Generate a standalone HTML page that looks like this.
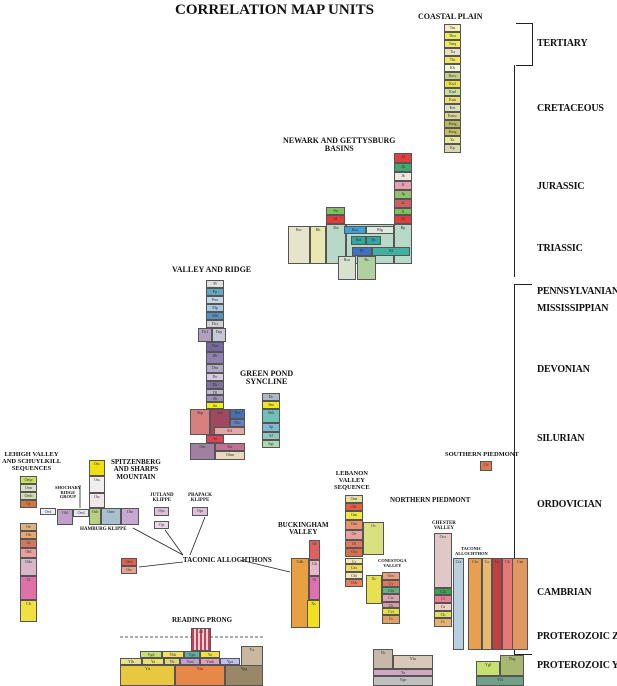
<!DOCTYPE html>
<html><head><meta charset="utf-8"><style>
body{margin:0;width:617px;height:686px;background:#fff;position:relative;overflow:hidden;font-family:"Liberation Serif",serif}
.a{position:absolute;box-sizing:border-box;border:1px solid #555;font-size:4px;color:#333;text-align:center;overflow:hidden}
.t{position:absolute;font-weight:bold;color:#111;text-align:center;line-height:1.05;white-space:nowrap}
.p{position:absolute;font-weight:bold;font-size:10px;color:#111;left:537px;white-space:nowrap;letter-spacing:-0.2px}
.l{position:absolute;background:#222}
</style></head><body>
<div class="t" style="left:175px;top:3px;font-size:15px">CORRELATION MAP UNITS</div>
<div class="t" style="left:418px;top:13px;font-size:8px">COASTAL PLAIN</div>
<div class="t" style="left:283px;top:137px;font-size:8px">NEWARK AND GETTYSBURG<br>BASINS</div>
<div class="t" style="left:172px;top:266px;font-size:8px">VALLEY AND RIDGE</div>
<div class="t" style="left:240px;top:370px;font-size:8px">GREEN POND<br>SYNCLINE</div>
<div class="t" style="left:2px;top:452px;font-size:6.5px">LEHIGH VALLEY<br>AND SCHUYLKILL<br>SEQUENCES</div>
<div class="t" style="left:111px;top:459px;font-size:7px">SPITZENBERG<br>AND SHARPS<br>MOUNTAIN</div>
<div class="t" style="left:55px;top:486px;font-size:4.5px">SHOCHARY<br>RIDGE<br>GROUP</div>
<div class="t" style="left:80px;top:527px;font-size:5px">HAMBURG KLIPPE</div>
<div class="t" style="left:150px;top:493px;font-size:5px">JUTLAND<br>KLIPPE</div>
<div class="t" style="left:188px;top:493px;font-size:5px">PRAPACK<br>KLIPPE</div>
<div class="t" style="left:183px;top:557px;font-size:7px">TACONIC ALLOCHTHONS</div>
<div class="t" style="left:278px;top:522px;font-size:7px">BUCKINGHAM<br>VALLEY</div>
<div class="t" style="left:334px;top:471px;font-size:6.5px">LEBANON<br>VALLEY<br>SEQUENCE</div>
<div class="t" style="left:390px;top:497px;font-size:7px">NORTHERN PIEDMONT</div>
<div class="t" style="left:378px;top:559px;font-size:4.5px">CONESTOGA<br>VALLEY</div>
<div class="t" style="left:432px;top:521px;font-size:5px">CHESTER<br>VALLEY</div>
<div class="t" style="left:455px;top:547px;font-size:4.5px">TACONIC<br>ALLOCHTHON</div>
<div class="t" style="left:445px;top:452px;font-size:6.5px">SOUTHERN PIEDMONT</div>
<div class="t" style="left:172px;top:617px;font-size:7px">READING PRONG</div>

<!-- time scale -->
<div class="l" style="left:532px;top:23px;width:1px;height:42px"></div>
<div class="l" style="left:516px;top:23px;width:17px;height:1px"></div>
<div class="l" style="left:516px;top:65px;width:17px;height:1px"></div>
<div class="l" style="left:514px;top:65px;width:1px;height:212px"></div>
<div class="l" style="left:514px;top:284px;width:1px;height:402px"></div>
<div class="l" style="left:514px;top:284px;width:18px;height:1px"></div>
<div class="l" style="left:514px;top:654px;width:18px;height:1px"></div>
<div class="p" style="top:38px">TERTIARY</div>
<div class="p" style="top:103px">CRETACEOUS</div>
<div class="p" style="top:181px">JURASSIC</div>
<div class="p" style="top:243px">TRIASSIC</div>
<div class="p" style="top:286px">PENNSYLVANIAN</div>
<div class="p" style="top:303px">MISSISSIPPIAN</div>
<div class="p" style="top:364px">DEVONIAN</div>
<div class="p" style="top:433px">SILURIAN</div>
<div class="p" style="top:499px">ORDOVICIAN</div>
<div class="p" style="top:587px">CAMBRIAN</div>
<div class="p" style="top:631px">PROTEROZOIC Z</div>
<div class="p" style="top:660px">PROTEROZOIC Y</div>

<!-- coastal plain -->
<div class="a" style="left:444px;top:24px;width:17px;height:8px;background:#f4f0c0">Tm</div>
<div class="a" style="left:444px;top:32px;width:17px;height:8px;background:#ecec60">Tkw</div>
<div class="a" style="left:444px;top:40px;width:17px;height:8px;background:#f0e860">Tmq</div>
<div class="a" style="left:444px;top:48px;width:17px;height:8px;background:#e8e0c8">Tsr</div>
<div class="a" style="left:444px;top:56px;width:17px;height:8px;background:#eee860">Tht</div>
<div class="a" style="left:444px;top:64px;width:17px;height:8px;background:#f4f4e0">Kh</div>
<div class="a" style="left:444px;top:72px;width:17px;height:8px;background:#c8d088">Kmv</div>
<div class="a" style="left:444px;top:80px;width:17px;height:8px;background:#e8e040">Kwl</div>
<div class="a" style="left:444px;top:88px;width:17px;height:8px;background:#c8e0a0">Kml</div>
<div class="a" style="left:444px;top:96px;width:17px;height:8px;background:#e8e070">Kmt</div>
<div class="a" style="left:444px;top:104px;width:17px;height:8px;background:#dce0c0">Ket</div>
<div class="a" style="left:444px;top:112px;width:17px;height:8px;background:#d8d890">Kmw</div>
<div class="a" style="left:444px;top:120px;width:17px;height:8px;background:#b8b860">Kmg</div>
<div class="a" style="left:444px;top:128px;width:17px;height:8px;background:#c8c060">Kmg</div>
<div class="a" style="left:444px;top:136px;width:17px;height:8px;background:#e8e8a0">Kr</div>
<div class="a" style="left:444px;top:144px;width:17px;height:9px;background:#d8d8b0">Kp</div>

<!-- Newark -->
<div class="a" style="left:394px;top:153px;width:18px;height:10px;background:#e04040">Jd</div>
<div class="a" style="left:394px;top:163px;width:18px;height:9px;background:#40a870">Jh</div>
<div class="a" style="left:394px;top:172px;width:18px;height:9px;background:#f0e8e0">Jb</div>
<div class="a" style="left:394px;top:181px;width:18px;height:9px;background:#e8a0b0">Jf</div>
<div class="a" style="left:394px;top:190px;width:18px;height:9px;background:#90c070">Jp</div>
<div class="a" style="left:394px;top:199px;width:18px;height:9px;background:#d06060">Jo</div>
<div class="a" style="left:394px;top:208px;width:18px;height:7px;background:#80c060">Jt</div>
<div class="a" style="left:394px;top:215px;width:18px;height:9px;background:#e03c3c">Jd</div>
<div class="a" style="left:326px;top:207px;width:19px;height:8px;background:#80c060">Jtu</div>
<div class="a" style="left:326px;top:215px;width:19px;height:9px;background:#e03c3c">Jd</div>
<div class="a" style="left:288px;top:226px;width:22px;height:38px;background:#e8e4cc">Rsc</div>
<div class="a" style="left:310px;top:226px;width:16px;height:38px;background:#e8e8b0">Rh</div>
<div class="a" style="left:326px;top:224px;width:20px;height:40px;background:#b8d8c8">Rst</div>
<div class="a" style="left:346px;top:224px;width:48px;height:40px;background:#b8d8c8"></div>
<div class="a" style="left:394px;top:224px;width:18px;height:40px;background:#b8d8c8">Rp</div>
<div class="a" style="left:344px;top:226px;width:22px;height:8px;background:#40a0d8">Rsu</div>
<div class="a" style="left:366px;top:226px;width:28px;height:8px;background:#e0e8e0">Rlg</div>
<div class="a" style="left:351px;top:236px;width:15px;height:9px;background:#30a8a0">Rsl</div>
<div class="a" style="left:366px;top:236px;width:15px;height:9px;background:#30a8a0">Rs</div>
<div class="a" style="left:352px;top:247px;width:20px;height:9px;background:#4070c0">Rs</div>
<div class="a" style="left:372px;top:247px;width:38px;height:9px;background:#40b0a0">Rl</div>
<div class="a" style="left:338px;top:256px;width:18px;height:24px;background:#d8e0d0">Rsu</div>
<div class="a" style="left:357px;top:256px;width:19px;height:24px;background:#b0d0a0">Rs</div>

<!-- Valley & Ridge -->
<div class="a" style="left:206px;top:280px;width:18px;height:8px;background:#e0e0e0">Pl</div>
<div class="a" style="left:206px;top:288px;width:18px;height:8px;background:#60a8c0">Pp</div>
<div class="a" style="left:206px;top:296px;width:18px;height:8px;background:#c8d8e8">Pmc</div>
<div class="a" style="left:206px;top:304px;width:18px;height:8px;background:#a8c8e0">Mp</div>
<div class="a" style="left:206px;top:312px;width:18px;height:8px;background:#5890c0">Mh</div>
<div class="a" style="left:206px;top:320px;width:18px;height:8px;background:#d0d0d0">Dct</div>
<div class="a" style="left:198px;top:328px;width:14px;height:14px;background:#b0a0c0">Dcf</div>
<div class="a" style="left:212px;top:328px;width:14px;height:14px;background:#c8c8d8">Dsp</div>
<div class="a" style="left:206px;top:342px;width:18px;height:10px;background:#7868a0">Dm</div>
<div class="a" style="left:206px;top:352px;width:18px;height:12px;background:#9080b0">Dh</div>
<div class="a" style="left:206px;top:364px;width:18px;height:9px;background:#b8a8c8">Dm</div>
<div class="a" style="left:206px;top:373px;width:18px;height:8px;background:#d8c8e0">Do</div>
<div class="a" style="left:206px;top:381px;width:18px;height:8px;background:#8070a0">Dk</div>
<div class="a" style="left:206px;top:389px;width:18px;height:6px;background:#c0b8d0">Dl</div>
<div class="a" style="left:206px;top:395px;width:18px;height:7px;background:#a090b8">Sk</div>
<div class="a" style="left:206px;top:402px;width:18px;height:7px;background:#f0f010">Sn</div>
<div class="a" style="left:190px;top:409px;width:20px;height:26px;background:#d88080">Sbp</div>
<div class="a" style="left:210px;top:409px;width:20px;height:26px;background:#a04860">Sct</div>
<div class="a" style="left:230px;top:409px;width:15px;height:10px;background:#4870b0">Dct</div>
<div class="a" style="left:230px;top:419px;width:15px;height:8px;background:#6880c0">Dks</div>
<div class="a" style="left:214px;top:427px;width:31px;height:8px;background:#e0a8a8">Sfl</div>
<div class="a" style="left:206px;top:435px;width:18px;height:8px;background:#e04050">Sf</div>
<div class="a" style="left:190px;top:443px;width:25px;height:17px;background:#a080a0">Om</div>
<div class="a" style="left:215px;top:443px;width:30px;height:8px;background:#c07090">Sw</div>
<div class="a" style="left:215px;top:451px;width:30px;height:9px;background:#e8d8c0">Ohm</div>
<!-- Green Pond -->
<div class="a" style="left:262px;top:393px;width:18px;height:8px;background:#b0b8c8">Dc</div>
<div class="a" style="left:262px;top:401px;width:18px;height:8px;background:#f0e820">Sm</div>
<div class="a" style="left:262px;top:409px;width:18px;height:14px;background:#70c0b8">Sbk</div>
<div class="a" style="left:262px;top:423px;width:18px;height:9px;background:#80b8d0">Sp</div>
<div class="a" style="left:262px;top:432px;width:18px;height:8px;background:#90c8c0">Sf</div>
<div class="a" style="left:262px;top:440px;width:18px;height:8px;background:#b0d8b0">Sgr</div>

<!-- Lehigh -->
<div class="a" style="left:20px;top:476px;width:17px;height:8px;background:#c8e060">Omp</div>
<div class="a" style="left:20px;top:484px;width:17px;height:8px;background:#d8e0c8">Omr</div>
<div class="a" style="left:20px;top:492px;width:17px;height:8px;background:#d0dcb0">Omb</div>
<div class="a" style="left:20px;top:500px;width:17px;height:8px;background:#d07840">Oj</div>
<div class="a" style="left:20px;top:523px;width:17px;height:8px;background:#e0b080">Oe</div>
<div class="a" style="left:20px;top:531px;width:17px;height:8px;background:#e8a870">Ofr</div>
<div class="a" style="left:20px;top:539px;width:17px;height:9px;background:#d07860">Oi</div>
<div class="a" style="left:20px;top:548px;width:17px;height:10px;background:#e8a0a0">Ohl</div>
<div class="a" style="left:20px;top:558px;width:17px;height:18px;background:#d8b8c8">Oda</div>
<div class="a" style="left:20px;top:576px;width:17px;height:24px;background:#e070a8">Cl</div>
<div class="a" style="left:20px;top:600px;width:17px;height:22px;background:#f0e040">Ch</div>
<!-- Spitzenberg / Hamburg -->
<div class="a" style="left:89px;top:460px;width:16px;height:16px;background:#f0e010">Osc</div>
<div class="a" style="left:89px;top:476px;width:16px;height:17px;background:#f0eef0">Oss</div>
<div class="a" style="left:89px;top:493px;width:16px;height:15px;background:#f0e8e8">Osr</div>
<div class="a" style="left:40px;top:508px;width:16px;height:7px;background:#f0f0f8">Oed</div>
<div class="a" style="left:57px;top:509px;width:16px;height:16px;background:#c0a0c8">Ohl</div>
<div class="a" style="left:73px;top:509px;width:16px;height:8px;background:#e8e8f0">Oml</div>
<div class="a" style="left:89px;top:508px;width:12px;height:17px;background:#b8d080">Osb</div>
<div class="a" style="left:101px;top:508px;width:20px;height:17px;background:#a8c0d0">Onw</div>
<div class="a" style="left:121px;top:508px;width:18px;height:17px;background:#c8a8d0">Ohr</div>
<!-- klippe boxes -->
<div class="a" style="left:154px;top:507px;width:15px;height:9px;background:#e0c0d8">Oju</div>
<div class="a" style="left:154px;top:521px;width:15px;height:8px;background:#e8d8e8">Ojs</div>
<div class="a" style="left:192px;top:507px;width:16px;height:9px;background:#e0c0d8">Opr</div>
<div class="a" style="left:121px;top:558px;width:16px;height:8px;background:#e06050">Oex</div>
<div class="a" style="left:121px;top:566px;width:16px;height:8px;background:#e8a090">Ow</div>
<svg style="position:absolute;left:0;top:0" width="617" height="686">
<g stroke="#222" stroke-width="0.8" fill="none">
<line x1="133" y1="528" x2="183" y2="555"/>
<line x1="165" y1="530" x2="183" y2="555"/>
<line x1="205" y1="517" x2="190" y2="555"/>
<line x1="183" y1="562" x2="139" y2="567"/>
<line x1="240" y1="560" x2="290" y2="572"/>
<line x1="80" y1="485" x2="80" y2="508"/>
<line x1="120" y1="637" x2="263" y2="637" stroke-dasharray="3,2"/>
</g></svg>
<!-- Southern piedmont -->
<div class="a" style="left:480px;top:461px;width:12px;height:10px;background:#e07850">Cb</div>
<!-- Buckingham -->
<div class="a" style="left:309px;top:540px;width:11px;height:20px;background:#e06060">Ol</div>
<div class="a" style="left:309px;top:560px;width:11px;height:16px;background:#e8b8c8">Cls</div>
<div class="a" style="left:309px;top:576px;width:11px;height:24px;background:#e070b0">Cl</div>
<div class="a" style="left:291px;top:558px;width:18px;height:70px;background:#e8a040">Cdh</div>
<div class="a" style="left:307px;top:600px;width:13px;height:28px;background:#f0e020">Xs</div>
<!-- Lebanon -->
<div class="a" style="left:345px;top:495px;width:18px;height:8px;background:#e8e0a0">Ona</div>
<div class="a" style="left:345px;top:503px;width:18px;height:8px;background:#e06040">Oh</div>
<div class="a" style="left:345px;top:511px;width:18px;height:9px;background:#f0e840">Oas</div>
<div class="a" style="left:345px;top:520px;width:18px;height:10px;background:#e89070">Om</div>
<div class="a" style="left:345px;top:530px;width:18px;height:10px;background:#e8a0a0">Oe</div>
<div class="a" style="left:345px;top:540px;width:18px;height:8px;background:#e07860">Oi</div>
<div class="a" style="left:345px;top:548px;width:18px;height:9px;background:#d87050">Ost</div>
<div class="a" style="left:363px;top:522px;width:21px;height:33px;background:#d8e080">Oc</div>
<div class="a" style="left:345px;top:558px;width:18px;height:6px;background:#f0e8b0">Cr</div>
<div class="a" style="left:345px;top:564px;width:18px;height:8px;background:#f0d860">Czs</div>
<div class="a" style="left:345px;top:572px;width:18px;height:7px;background:#f0e8c0">Cbt</div>
<div class="a" style="left:345px;top:579px;width:18px;height:8px;background:#e88060">Cbb</div>
<div class="a" style="left:366px;top:575px;width:16px;height:29px;background:#e8e050">Xc</div>
<div class="a" style="left:382px;top:572px;width:18px;height:8px;background:#e8a080">Oco</div>
<div class="a" style="left:382px;top:580px;width:18px;height:7px;background:#e07860">Cv</div>
<div class="a" style="left:382px;top:587px;width:18px;height:7px;background:#60b080">Cbf</div>
<div class="a" style="left:382px;top:594px;width:18px;height:8px;background:#e0a0b0">Cw</div>
<div class="a" style="left:382px;top:602px;width:18px;height:6px;background:#d0a0a0">Ck</div>
<div class="a" style="left:382px;top:608px;width:18px;height:7px;background:#e8e040">Cvi</div>
<div class="a" style="left:382px;top:615px;width:18px;height:9px;background:#e0a060">Cc</div>
<!-- Chester -->
<div class="a" style="left:434px;top:533px;width:18px;height:55px;background:#e0c8c8">Oco</div>
<div class="a" style="left:434px;top:588px;width:18px;height:7px;background:#40a050">Cla</div>
<div class="a" style="left:434px;top:595px;width:18px;height:8px;background:#e88090">Cl</div>
<div class="a" style="left:434px;top:603px;width:18px;height:8px;background:#f0d0c0">Ca</div>
<div class="a" style="left:434px;top:611px;width:18px;height:7px;background:#e0e060">Cb</div>
<div class="a" style="left:434px;top:618px;width:18px;height:9px;background:#e8b070">Cc</div>
<div class="a" style="left:453px;top:558px;width:11px;height:92px;background:#b8d0e0">Cfa</div>
<div class="a" style="left:468px;top:558px;width:14px;height:92px;background:#e8a050">Cfo</div>
<div class="a" style="left:482px;top:558px;width:10px;height:92px;background:#e8b870">Co</div>
<div class="a" style="left:492px;top:558px;width:10px;height:92px;background:#c04040">Cs</div>
<div class="a" style="left:502px;top:558px;width:11px;height:92px;background:#e87878">Ck</div>
<div class="a" style="left:512px;top:558px;width:16px;height:92px;background:#e09860">Cm</div>
<div class="a" style="left:476px;top:661px;width:24px;height:15px;background:#c8e070">Ygl</div>
<div class="a" style="left:500px;top:655px;width:24px;height:21px;background:#a8b870">Yhg</div>
<div class="a" style="left:476px;top:676px;width:48px;height:10px;background:#70a088">Ybl</div>
<!-- Northern piedmont bottom -->
<div class="a" style="left:373px;top:649px;width:20px;height:20px;background:#c8b8a8">Yh</div>
<div class="a" style="left:393px;top:655px;width:40px;height:14px;background:#d8c8b8">Yhs</div>
<div class="a" style="left:373px;top:669px;width:60px;height:7px;background:#d0a8c0">Ya</div>
<div class="a" style="left:373px;top:676px;width:60px;height:10px;background:#c0c0c0">Ygn</div>
<!-- Reading prong -->
<div class="a" style="left:191px;top:628px;width:20px;height:23px;background:repeating-linear-gradient(90deg,#c04060 0 2px,#f0d0d0 2px 4px)">Zd</div>
<div class="a" style="left:140px;top:651px;width:22px;height:7px;background:#c8e070">Ygd</div>
<div class="a" style="left:162px;top:651px;width:22px;height:7px;background:#f0e060">Yhk</div>
<div class="a" style="left:184px;top:651px;width:16px;height:7px;background:#60b0a0">Ygb</div>
<div class="a" style="left:200px;top:651px;width:20px;height:7px;background:#f0e040">Yo</div>
<div class="a" style="left:241px;top:646px;width:22px;height:20px;background:#c8b8a0">Yx</div>
<div class="a" style="left:120px;top:658px;width:22px;height:7px;background:#e8e090">Ylb</div>
<div class="a" style="left:142px;top:658px;width:22px;height:7px;background:#e8e070">Ya</div>
<div class="a" style="left:164px;top:658px;width:16px;height:7px;background:#e0d880">Yb</div>
<div class="a" style="left:180px;top:658px;width:20px;height:7px;background:#c0a0d0">Yml</div>
<div class="a" style="left:200px;top:658px;width:20px;height:7px;background:#e0a0c0">Ymk</div>
<div class="a" style="left:220px;top:658px;width:20px;height:7px;background:#c0c0f0">Ypa</div>
<div class="a" style="left:120px;top:665px;width:55px;height:21px;background:#e8c840">Ytt</div>
<div class="a" style="left:175px;top:665px;width:50px;height:21px;background:#e88848">Ybs</div>
<div class="a" style="left:225px;top:665px;width:38px;height:21px;background:#988868">Ypg</div>
</body></html>
